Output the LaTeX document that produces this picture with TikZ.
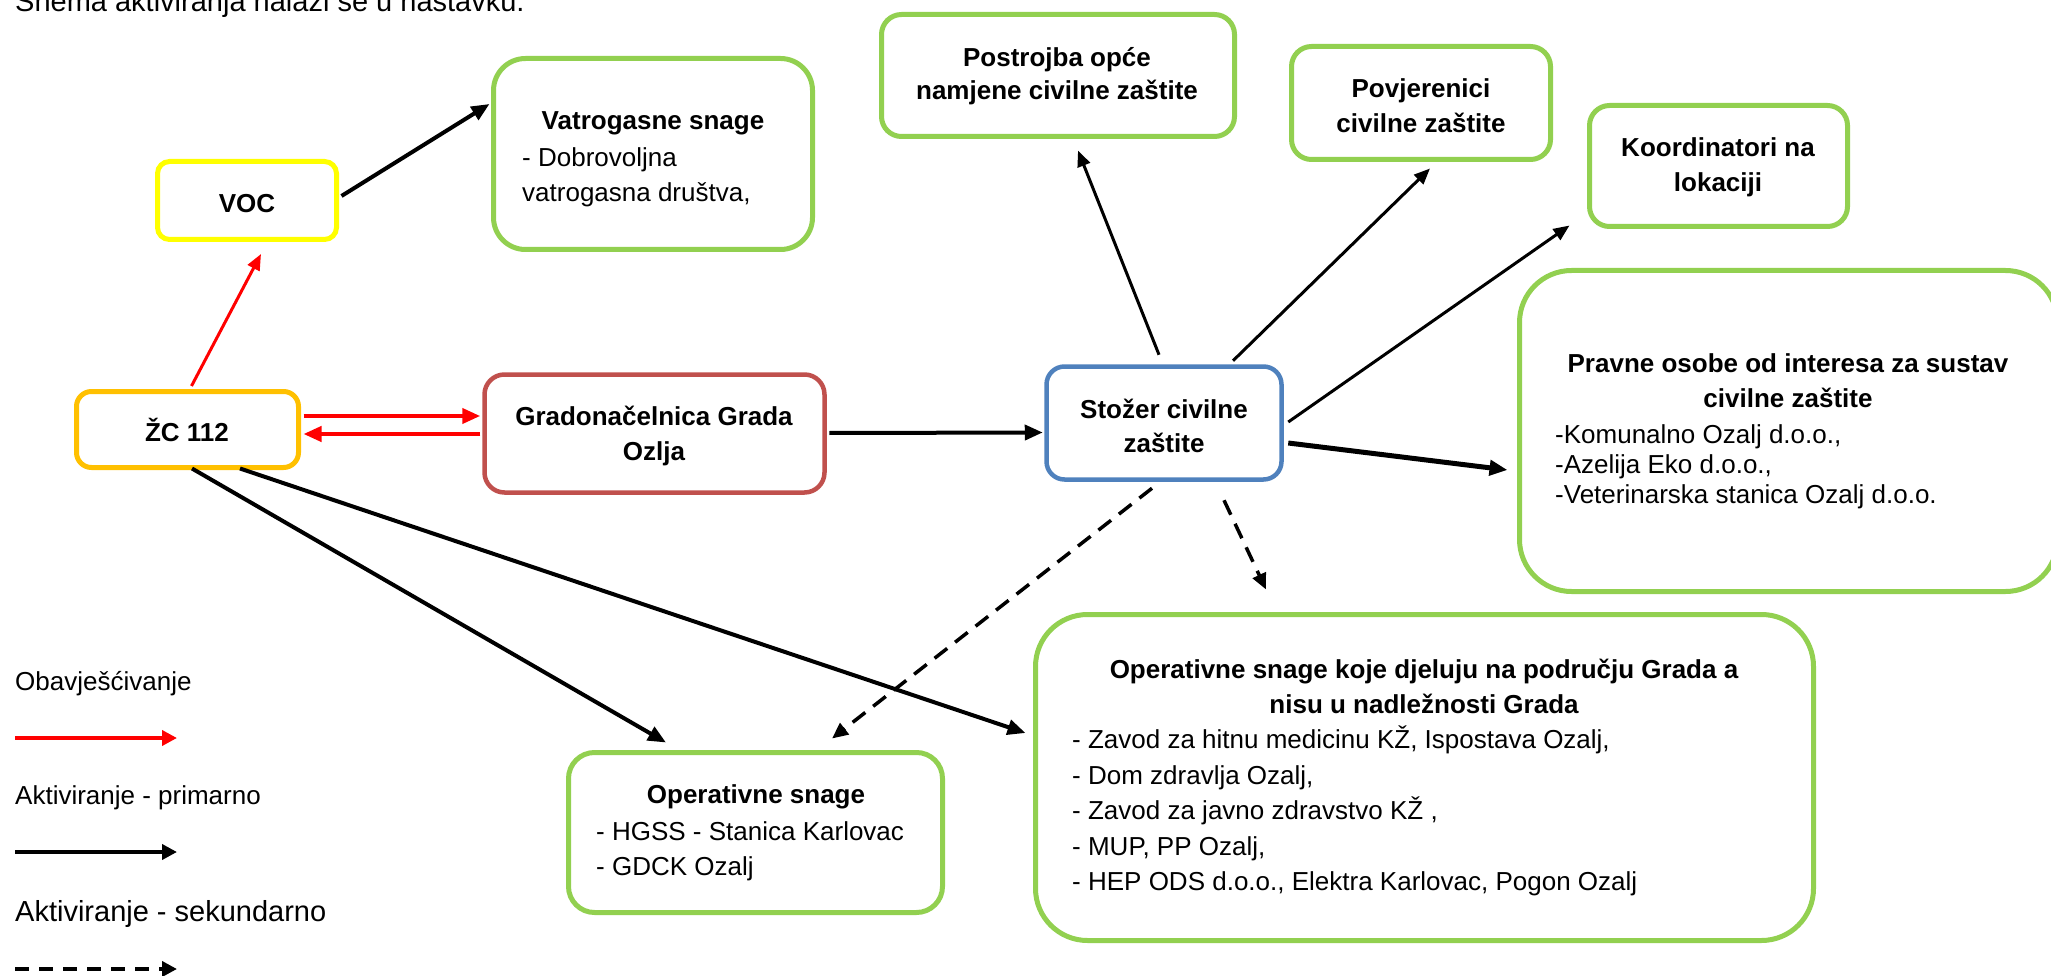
\documentclass[tikz,border=0pt]{standalone}
\usepackage{fontspec}
\setmainfont{Liberation Sans}
\usetikzlibrary{arrows.meta,calc}
\definecolor{cgreen}{HTML}{92D050}
\definecolor{cyellow}{HTML}{FFFF00}
\definecolor{corange}{HTML}{FFC000}
\definecolor{cbrown}{HTML}{C0504D}
\definecolor{cblue}{HTML}{4F81BD}
\definecolor{cred}{HTML}{FF0000}
\begin{document}
\begin{tikzpicture}[x=1pt,y=-1pt,
  box/.style={draw, line width=5pt, inner sep=0pt},
  txt/.style={inner sep=0pt, anchor=base, font=\fontsize{26}{31}\selectfont},
  btxt/.style={inner sep=0pt, anchor=base, font=\fontsize{26}{31}\selectfont\bfseries},
  ltxt/.style={inner sep=0pt, anchor=base west, font=\fontsize{26}{31}\selectfont},
  arr/.style={-{Triangle[length=18pt,width=15pt]}, line width=4pt},
  thinarr/.style={-{Triangle[length=16pt,width=13pt]}, line width=3pt},
  dasharr/.style={-{Triangle[length=16pt,width=14pt]}, line width=3.5pt, dash pattern=on 16pt off 10pt}
]
\useasboundingbox (0,0) rectangle (2051,976);

% header
\node[ltxt, font=\fontsize{29}{34}\selectfont] (hdr) at (15,12) {Shema aktiviranja nalazi se u nastavku.};

% boxes
\node[box, draw=cyellow, rounded corners=12pt, minimum width=179pt, minimum height=78pt] (voc) at (247,200.5) {};
\node[box, draw=cgreen, rounded corners=32pt, minimum width=319pt, minimum height=191pt] (vat) at (653,154) {};
\node[box, draw=corange, rounded corners=15pt, minimum width=222pt, minimum height=76pt] (zc) at (187.5,429.5) {};
\node[box, draw=cbrown, line width=4.5pt, rounded corners=20pt, minimum width=340pt, minimum height=118pt] (grad) at (654.5,433.5) {};
\node[box, draw=cblue, line width=4.5pt, rounded corners=18pt, minimum width=235pt, minimum height=113pt] (stozer) at (1164,423) {};
\node[box, draw=cgreen, rounded corners=20pt, minimum width=353pt, minimum height=122pt] (postr) at (1058,75.5) {};
\node[box, draw=cgreen, rounded corners=20pt, minimum width=259pt, minimum height=113pt] (povj) at (1421,103) {};
\node[box, draw=cgreen, rounded corners=20pt, minimum width=258pt, minimum height=121pt] (koord) at (1718.5,166) {};
\node[box, draw=cgreen, rounded corners=52pt, minimum width=538pt, minimum height=321pt] (pravne) at (1788.5,431) {};
\node[box, draw=cgreen, rounded corners=26pt, minimum width=374pt, minimum height=160pt] (ops) at (755.5,832.5) {};
\node[box, draw=cgreen, rounded corners=52pt, minimum width=778pt, minimum height=326pt] (opsk) at (1424.5,777.5) {};

% texts
\node[btxt] (vocT) at (247,213) {VOC};
\node[btxt] (vatT1) at (653,130) {Vatrogasne snage};
\node[ltxt] (vatT2) at (522,167) {- Dobrovoljna};
\node[ltxt] (vatT3) at (522,202) {vatrogasna društva,};
\node[btxt] (zcT) at (187,441) {ŽC 112};
\node[btxt] (gradT1) at (654,425) {Gradonačelnica Grada};
\node[btxt] (gradT2) at (654,460) {Ozlja};
\node[btxt] (stozerT1) at (1164,418) {Stožer civilne};
\node[btxt] (stozerT2) at (1164,452) {zaštite};
\node[btxt] (postrT1) at (1057,67) {Postrojba opće};
\node[btxt] (postrT2) at (1057,100) {namjene civilne zaštite};
\node[btxt] (povjT1) at (1421,98) {Povjerenici};
\node[btxt] (povjT2) at (1421,133) {civilne zaštite};
\node[btxt] (koordT1) at (1718,157) {Koordinatori na};
\node[btxt] (koordT2) at (1718,192) {lokaciji};
\node[btxt] (pravT1) at (1788,372) {Pravne osobe od interesa za sustav};
\node[btxt] (pravT2) at (1788,407) {civilne zaštite};
\node[ltxt] (pravT3) at (1555,443) {-Komunalno Ozalj d.o.o.,};
\node[ltxt] (pravT4) at (1555,473) {-Azelija Eko d.o.o.,};
\node[ltxt] (pravT5) at (1555,503) {-Veterinarska stanica Ozalj d.o.o.};
\node[btxt] (opsT1) at (756,803) {Operativne snage};
\node[ltxt] (opsT2) at (596,840) {- HGSS - Stanica Karlovac};
\node[ltxt] (opsT3) at (596,875) {- GDCK Ozalj};
\node[btxt] (opskT1) at (1424,678) {Operativne snage koje djeluju na području Grada a};
\node[btxt] (opskT2) at (1424,713) {nisu u nadležnosti Grada};
\node[ltxt] (opskT3) at (1072,748) {- Zavod za hitnu medicinu KŽ, Ispostava Ozalj,};
\node[ltxt] (opskT4) at (1072,784) {- Dom zdravlja Ozalj,};
\node[ltxt] (opskT5) at (1072,819) {- Zavod za javno zdravstvo KŽ ,};
\node[ltxt] (opskT6) at (1072,855) {- MUP, PP Ozalj,};
\node[ltxt] (opskT7) at (1072,890) {- HEP ODS d.o.o., Elektra Karlovac, Pogon Ozalj};

% red connectors
\draw[thinarr, cred] ($(zc.north)+(4,-3)$) -- ($(voc.south)+(14,12)$);
\draw[arr, cred] ($(zc.east)+(2.5,-13.5)$) -- ($(grad.west)+(-2,-17.5)$);
\draw[arr, cred] ($(grad.west)+(-2,0.5)$) -- ($(zc.east)+(2.5,4.5)$);

% black connectors
\draw[arr] ($(voc.east)+(2.5,-4.5)$) -- ($(vat.west)+(-1.5,-50)$);
\draw[arr] ($(grad.east)+(2.5,-0.5)$) -- ($(stozer.west)+(-1.5,9.5)$);
\draw[thinarr] ($(stozer.north)+(-5,-9.5)$) -- ($(postr.south)+(20,11.5)$);
\draw[thinarr] ($(stozer.north)+(69,-3.5)$) -- ($(povj.south)+(9,6.5)$);
\draw[thinarr] ($(stozer.east)+(4.5,-1)$) -- ($(koord.south west)+(-17.5,-3.5)$);
\draw[arr, line width=5pt] ($(stozer.east)+(4.5,20)$) -- ($(pravne.west)+(-9.5,39)$);
\draw[arr] ($(zc.south)+(4.5,-1.5)$) -- ($(ops.north)+(-89.5,-7.5)$);
\draw[arr] ($(zc.south)+(52.5,-1.5)$) -- ($(opsk.west)+(-7.5,-44.5)$);

% dashed connectors
\draw[dasharr] ($(stozer.south)+(-12,6.5)$) -- ($(ops.north)+(76.5,-11.5)$);
\draw[dasharr] ($(stozer.south)+(60,18.5)$) -- ($(opsk.north)+(-158.5,-22.5)$);

% legend
\node[ltxt] (leg1) at (15,690) {Obavješćivanje};
\node[ltxt] (leg2) at (15,804) {Aktiviranje - primarno};
\node[ltxt, font=\fontsize{29}{34}\selectfont] (leg3) at (15,921) {Aktiviranje - sekundarno};
\coordinate (l1a) at (15,738); \coordinate (l1b) at (177,738);
\coordinate (l2a) at (15,852); \coordinate (l2b) at (177,852);
\coordinate (l3a) at (15,969); \coordinate (l3b) at (177,969);
\draw[-{Triangle[length=15pt,width=15pt]}, line width=4pt, cred] (l1a) -- (l1b);
\draw[-{Triangle[length=15pt,width=15pt]}, line width=4pt] (l2a) -- (l2b);
\draw[-{Triangle[length=15pt,width=15pt]}, line width=4pt, dash pattern=on 14pt off 10pt] (l3a) -- (l3b);
\end{tikzpicture}
\end{document}
